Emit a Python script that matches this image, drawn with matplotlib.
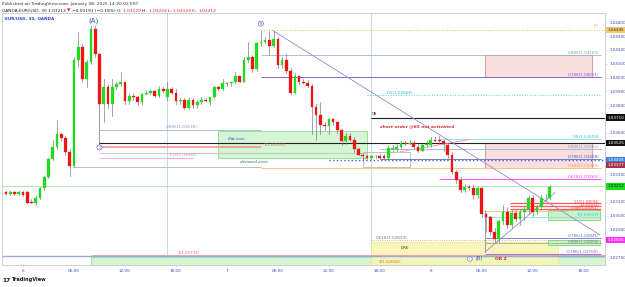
import matplotlib
matplotlib.use('Agg')
import matplotlib.pyplot as plt
from matplotlib.patches import Rectangle
from matplotlib.transforms import blended_transform_factory
import numpy as np

# ---------------- data ----------------
bar_hours = np.arange(-2.0, 62.5, 0.5)   # 30-min bars, hours from Jan 6 00:00

opens = [1.0317, 1.0316, 1.0317, 1.0316, 1.0317,
         1.0317, 1.0310, 1.0309, 1.0313, 1.0320,
         1.0328, 1.0341, 1.0350, 1.0359, 1.0356,
         1.0346, 1.0336, 1.0413, 1.0422, 1.0399,
         1.0411, 1.0435, 1.0417, 1.0381, 1.0393,
         1.0381, 1.0393, 1.0395, 1.0397, 1.0383,
         1.0387, 1.0386, 1.0382, 1.0388, 1.0389,
         1.0390, 1.0387, 1.0392, 1.0386, 1.0392,
         1.0389, 1.0383, 1.0384, 1.0378, 1.0384,
         1.0380, 1.0382, 1.0384, 1.0382, 1.0386,
         1.0393, 1.0392, 1.0395, 1.0396, 1.0397,
         1.0401, 1.0397, 1.0413, 1.0415, 1.0406,
         1.0425, 1.0426, 1.0427, 1.0423, 1.0428,
         1.0409, 1.0413, 1.0405, 1.0389, 1.0401,
         1.0397, 1.0396, 1.0394, 1.0379, 1.0373,
         1.0366, 1.0365, 1.0370, 1.0368, 1.0362,
         1.0354, 1.0358, 1.0355, 1.0348, 1.0344,
         1.0343, 1.0342, 1.0343, 1.0343, 1.0343,
         1.0342, 1.0348, 1.0348, 1.0350, 1.0353,
         1.0352, 1.0353, 1.0350, 1.0347, 1.0351,
         1.0351, 1.0355, 1.0355, 1.0354, 1.0351,
         1.0344, 1.0332, 1.0326, 1.0319, 1.0321,
         1.0320, 1.0315, 1.0320, 1.0301, 1.0299,
         1.0288, 1.0283, 1.0296, 1.0303, 1.0293,
         1.0302, 1.0298, 1.0303, 1.0305, 1.0313,
         1.0303, 1.0306, 1.0313, 1.0313]

highs = [1.0318, 1.0318, 1.0318, 1.0318, 1.0318,
         1.0318, 1.0312, 1.0314, 1.0321, 1.0329,
         1.0342, 1.0355, 1.0369, 1.0360, 1.0358,
         1.0348, 1.0415, 1.0433, 1.0424, 1.0413,
         1.0437, 1.0437, 1.0418, 1.0399, 1.0395,
         1.0399, 1.0397, 1.0404, 1.0397, 1.0389,
         1.0389, 1.0387, 1.0389, 1.0391, 1.0391,
         1.0391, 1.0394, 1.0393, 1.0397, 1.0393,
         1.0392, 1.0385, 1.0385, 1.0386, 1.0385,
         1.0384, 1.0386, 1.0385, 1.0386, 1.0394,
         1.0394, 1.0399, 1.0397, 1.0397, 1.0404,
         1.0401, 1.0415, 1.0426, 1.0416, 1.0426,
         1.0434, 1.0429, 1.0434, 1.0434, 1.0429,
         1.0415, 1.0417, 1.0407, 1.0403, 1.0402,
         1.0399, 1.0398, 1.0395, 1.0381, 1.0382,
         1.0368, 1.0371, 1.0371, 1.0368, 1.0363,
         1.0360, 1.0360, 1.0357, 1.0349, 1.0345,
         1.0344, 1.0344, 1.0344, 1.0345, 1.0345,
         1.0351, 1.0351, 1.0352, 1.0354, 1.0354,
         1.0355, 1.0354, 1.0352, 1.0352, 1.0354,
         1.0357, 1.0357, 1.0358, 1.0355, 1.0352,
         1.0346, 1.0333, 1.0328, 1.0323, 1.0322,
         1.0322, 1.0321, 1.0321, 1.0302, 1.0300,
         1.0291, 1.0297, 1.0308, 1.0306, 1.0304,
         1.0304, 1.0305, 1.0307, 1.0315, 1.0315,
         1.0308, 1.0315, 1.0316, 1.0322]

lows = [1.0315, 1.0315, 1.0315, 1.0315, 1.0314,
        1.0309, 1.0309, 1.0308, 1.0312, 1.0319,
        1.0327, 1.0340, 1.0348, 1.0354, 1.0344,
        1.0329, 1.0335, 1.0408, 1.0397, 1.0393,
        1.0410, 1.0415, 1.0380, 1.0368, 1.0378,
        1.0372, 1.0392, 1.0394, 1.0381, 1.0381,
        1.0384, 1.0380, 1.0381, 1.0388, 1.0388,
        1.0386, 1.0386, 1.0389, 1.0384, 1.0388,
        1.0381, 1.0381, 1.0377, 1.0377, 1.0378,
        1.0378, 1.0381, 1.0382, 1.0380, 1.0385,
        1.0391, 1.0391, 1.0394, 1.0394, 1.0396,
        1.0397, 1.0397, 1.0411, 1.0404, 1.0405,
        1.0423, 1.0425, 1.0416, 1.0422, 1.0407,
        1.0407, 1.0403, 1.0388, 1.0389, 1.0395,
        1.0395, 1.0393, 1.0359, 1.0355, 1.0359,
        1.0362, 1.0359, 1.0366, 1.0360, 1.0351,
        1.0352, 1.0354, 1.0346, 1.0344, 1.0341,
        1.0341, 1.0341, 1.0342, 1.0341, 1.0341,
        1.0342, 1.0346, 1.0347, 1.0348, 1.0351,
        1.0352, 1.0349, 1.0346, 1.0347, 1.0350,
        1.0350, 1.0354, 1.0352, 1.0347, 1.0342,
        1.0330, 1.0324, 1.0317, 1.0317, 1.0319,
        1.0312, 1.0313, 1.0299, 1.0288, 1.0286,
        1.0281, 1.0281, 1.0294, 1.0291, 1.0292,
        1.0296, 1.0293, 1.0297, 1.0301, 1.0300,
        1.0301, 1.0304, 1.0311, 1.0312]

closes = [1.0316, 1.0317, 1.0316, 1.0317, 1.0315,
          1.0309, 1.0309, 1.0313, 1.0320, 1.0328,
          1.0341, 1.0350, 1.0359, 1.0356, 1.0346,
          1.0336, 1.0413, 1.0422, 1.0399, 1.0411,
          1.0435, 1.0417, 1.0381, 1.0393, 1.0381,
          1.0393, 1.0395, 1.0397, 1.0383, 1.0387,
          1.0386, 1.0382, 1.0388, 1.0389, 1.0390,
          1.0387, 1.0392, 1.0390, 1.0392, 1.0389,
          1.0383, 1.0384, 1.0378, 1.0384, 1.0380,
          1.0382, 1.0384, 1.0383, 1.0386, 1.0393,
          1.0392, 1.0396, 1.0396, 1.0397, 1.0401,
          1.0397, 1.0413, 1.0415, 1.0406, 1.0425,
          1.0426, 1.0427, 1.0423, 1.0428, 1.0409,
          1.0413, 1.0405, 1.0389, 1.0401, 1.0397,
          1.0396, 1.0394, 1.0379, 1.0373, 1.0366,
          1.0365, 1.0370, 1.0368, 1.0362, 1.0354,
          1.0358, 1.0355, 1.0348, 1.0344, 1.0343,
          1.0342, 1.0343, 1.0343, 1.0342, 1.0342,
          1.0349, 1.0349, 1.0350, 1.0353, 1.0352,
          1.0353, 1.0350, 1.0347, 1.0351, 1.0352,
          1.0355, 1.0354, 1.0354, 1.0352, 1.0344,
          1.0332, 1.0326, 1.0319, 1.0321, 1.0320,
          1.0315, 1.0320, 1.0301, 1.0299, 1.0288,
          1.0283, 1.0296, 1.0303, 1.0293, 1.0302,
          1.0298, 1.0303, 1.0305, 1.0313, 1.0303,
          1.0306, 1.0313, 1.0313, 1.0321]

x_tick_hours = [0, 6, 12, 18, 24, 30, 36, 42, 48, 54, 60, 66]
x_tick_labels = ['6', '06:00', '12:00', '18:00', '7', '06:00', '12:00', '18:00',
                 '8', '06:00', '12:00', '18:00']
price_ticks = [1.027, 1.029, 1.030, 1.031, 1.033,
               1.036, 1.038, 1.039, 1.040, 1.041, 1.042, 1.043, 1.044]
session_breaks = [17, 41]

# ---------------- figure ----------------
W, H = 625, 287
fig = plt.figure(figsize=(W / 100, H / 100), dpi=100)
fig.patch.set_facecolor('white')
ax = fig.add_axes([2 / W, 22 / H, 603 / W, 252 / H])
XMIN, XMAX = -2.47, 68.5
YMIN, YMAX = 1.02644, 1.04467
ax.set_xlim(XMIN, XMAX)
ax.set_ylim(YMIN, YMAX)

FS = 3.0
AXC = '#3b4bc4'
for s in ax.spines.values():
    s.set_color('#c8c8c8')
    s.set_linewidth(0.6)
ax.yaxis.tick_right()
ax.set_yticks(price_ticks)
ax.set_yticklabels([f'{p:.5f}' for p in price_ticks])
ax.set_xticks(x_tick_hours)
ax.set_xticklabels(x_tick_labels)
ax.tick_params(axis='both', labelsize=FS, colors=AXC, length=1.5, width=0.4, pad=1.5)
ax.tick_params(axis='both', color='#c8c8c8')

# session separators
for h in session_breaks:
    ax.axvline(h, color='#b7d3ea', lw=0.6, zorder=1)

def hline(x0, x1, y, color, lw=0.6, ls='-', z=2):
    ax.plot([x0, x1], [y, y], color=color, lw=lw, ls=ls, zorder=z, solid_capstyle='butt')

def box(x0, x1, y0, y1, fc, ec, alpha=1.0, z=1, lw=0.6):
    ax.add_patch(Rectangle((x0, y0), x1 - x0, y1 - y0, facecolor=fc, edgecolor=ec,
                           lw=lw, alpha=alpha, zorder=z))

def txt(x, y, s, color, ha='left', va='center', fs=FS, **kw):
    ax.text(x, y, s, color=color, ha=ha, va=va, fontsize=fs, zorder=6, **kw)

# ---- bottom bands ----
box(8.0, XMAX, YMIN, 1.02702, '#d4f5d4', '#9be09b', z=1)
box(41.0, 63.0, YMIN, 1.02811, '#f7f5b0', '#e8e59a', alpha=0.85, z=1)
hline(XMIN, XMAX, 1.02709, '#9fa8da', lw=1.0)
hline(8.0, XMAX, 1.02717, '#f48fb1', lw=0.6)
txt(20.8, 1.02733, '2(1.02711)', '#e0609a', ha='right')
txt(41.8, 1.02666, '1(1.02656)', '#e06a40')
txt(44.4, 1.02768, 'DRE', '#333333')
hline(41.0, 63.0, 1.02826, '#b5b54a', lw=0.6, ls=':')
txt(41.5, 1.02842, '0.618(1.02813)', '#777777')

# ---- first fib (from A) ----
ax.plot([9.0, 9.0], [1.03494, 1.03806], color='#8a8a8a', lw=0.6, zorder=2)
hline(9.0, 28.0, 1.03618, '#9ab4d4')
txt(20.5, 1.03640, '0.886(1.03618)', '#7f9cc0', ha='right')
hline(9.0, XMAX, 1.03525, '#222222', lw=0.8)
hline(9.0, 28.0, 1.03501, '#f08a8a', lw=1.1)
hline(9.0, 40.5, 1.03457, '#a9cfa9')
hline(9.0, 20.0, 1.03421, '#f4a3d0')
txt(20.5, 1.03440, '1.13(1.03416)', '#e477c0', ha='right')
hline(5.9, 28.0, 1.03356, '#a8bfa8')
ax.text(9.0, 1.03494, '2', color='#7b61d8', fontsize=2.6, ha='center', va='center', zorder=7,
        bbox=dict(boxstyle='circle,pad=0.15', fc='white', ec='#7b61d8', lw=0.5))

# ---- flat corr / demand zone ----
box(22.9, 40.5, 1.03421, 1.03610, '#c9f2c9', '#6fcf6f', alpha=0.75, z=1)
txt(24.1, 1.03552, 'flat corr.', '#1a3fd6', style='italic')
txt(28.3, 1.03515, '1(1.03556)', '#e0704a')
txt(25.5, 1.03392, 'demand zone', '#2e6b5e', style='italic')
hline(28.0, 68.0, 1.03349, '#f7c48a', lw=0.7)
box(40.0, 45.5, 1.03356, 1.03464, 'none', '#b8b8b8', z=2)

# ---- fib from B ----
hline(28.0, XMAX, 1.04343, '#f2c14e', lw=0.7, ls=':')
hline(28.0, 68.0, 1.04163, '#9ab4d4')
hline(28.0, 68.0, 1.04001, '#8a63d2', lw=0.7)
box(54.4, 67.0, 1.04001, 1.04163, '#f9dede', '#e88a8a', z=1)
txt(67.8, 1.04180, '0.886(1.04163)', '#7f9cc0', ha='right')
txt(67.8, 1.04018, '0.786(1.04001)', '#7d5bc8', ha='right')
hline(40.5, 68.0, 1.03871, '#4fd3e6', lw=0.7, ls=':')
txt(42.8, 1.03890, '0.5(1.03868)', '#31bcd0')
txt(67.5, 1.04370, '59', '#e8b040', ha='center', fs=2.6)

ax.text(8.3, 1.0441, '(A)', color='#3f51b5', fontsize=5, ha='center', va='center', zorder=7)
ax.text(28.0, 1.0439, 'B', color='#7b61d8', fontsize=2.6, ha='center', va='center', zorder=7,
        bbox=dict(boxstyle='circle,pad=0.15', fc='white', ec='#7b61d8', lw=0.5))

# DB line and note
hline(41.0, XMAX, 1.03711, '#222222', lw=0.8)
txt(41.0, 1.03735, 'DB', '#222222', fs=2.6)
txt(42.0, 1.03646, 'short order @65 not activated', '#d32f2f', style='italic', weight='bold', fs=3.2)

# ---- right-side fib cluster ----
hline(49.0, 68.0, 1.03559, '#84e0ea')
txt(67.8, 1.03572, '0.5(1.03559)', '#31bcd0', ha='right')
hline(42.0, 68.0, 1.03486, '#9ab4d4')
txt(67.8, 1.03500, '0.886(1.03482)', '#7f9cc0', ha='right')
box(54.4, 67.0, 1.03348, 1.03530, '#f9dede', '#e88a8a', z=1)
hline(36.0, XMAX, 1.03406, '#3d5afe', lw=1.0, ls=':')
hline(42.0, 68.0, 1.03412, '#5c6bc0', lw=0.6)
txt(67.8, 1.03424, '0.786(1.03408)', '#4a5ac0', ha='right')
txt(67.8, 1.03362, '0.382(1.03349)', '#f0a050', ha='right')
hline(49.0, 68.0, 1.03265, '#ff4fff', lw=0.7)
txt(67.8, 1.03280, '0.618(1.03265)', '#e040e0', ha='right')
ax.plot([44.4, 52.6], [1.03464, 1.03552], color='#f48fb1', lw=0.6, zorder=2)

# current price line
hline(XMIN, XMAX, 1.03218, '#a3e6a3', lw=0.6)

# ---- lower-right fib cluster ----
for lvl, lab in zip([1.03094, 1.03072, 1.03051], ['1.13(1.03094)', '1(1.03072)', '0.886(1.03051)']):
    hline(57.3, 68.0, lvl, '#ff5a5a', lw=0.9)
    txt(67.8, lvl + 0.00006, lab, '#ff3b3b', ha='right', fs=2.6)
hline(54.4, 64.0, 1.03036, '#f7c48a', lw=0.7)
box(61.8, 67.9, 1.02971, 1.03044, '#c9f2c9', '#7fd67f', z=1)
hline(54.4, 68.0, 1.02993, '#84e0ea')
txt(67.8, 1.03005, '1(1.03017)', '#31bcd0', ha='right')
ax.plot([54.4, 54.4], [1.02739, 1.03044], color='#8a8a8a', lw=0.6, zorder=2)
hline(54.4, 68.0, 1.02841, '#7986cb', lw=0.7)
txt(67.8, 1.02856, '0.786(1.02841)', '#5c6bc0', ha='right')
box(61.8, 67.9, 1.02790, 1.02826, '#c9f2c9', '#7fd67f', z=1)
hline(54.4, 68.0, 1.02804, '#9ab49a')
txt(67.8, 1.02812, '0.886(1.02804)', '#777777', ha='right')
hline(54.4, 68.0, 1.02724, '#7986cb', lw=0.7)
txt(67.8, 1.02738, '0.786(1.02700)', '#5c6bc0', ha='right')

# trend lines
ax.plot([29.4, 67.9], [1.0434, 1.02862], color='#9a86d0', lw=0.6, zorder=2)
ax.plot([54.4, 62.6], [1.02739, 1.03167], color='#9a86d0', lw=0.6, zorder=2)

# (C)(B)OR 2
ax.text(52.6, 1.02688, 'C', color='#7b61d8', fontsize=2.6, ha='center', va='center', zorder=7,
        bbox=dict(boxstyle='circle,pad=0.12', fc='white', ec='#7b61d8', lw=0.4))
txt(53.3, 1.02688, '(B)', '#3f51b5', fs=3.6)
txt(55.5, 1.02688, 'OR 2', '#e02020', fs=3.2, weight='bold')

# ---------------- candles ----------------
GREEN, RED = '#1fdc1f', '#f01414'
for t, o, h, l, c in zip(bar_hours, opens, highs, lows, closes):
    col = GREEN if c >= o else RED
    ax.plot([t, t], [l, h], color='#808080', lw=0.5, zorder=3)
    body = max(abs(c - o), 0.00002)
    ax.add_patch(Rectangle((t - 0.16, min(o, c)), 0.32, body, facecolor=col,
                           edgecolor=col, lw=0.2, zorder=4))

# ---------------- right axis highlight labels ----------------
trans = blended_transform_factory(ax.transAxes, ax.transData)
def plabel(y, s, bg, fg='white'):
    ax.text(1.004, y, s, transform=trans, ha='left', va='center', fontsize=FS, color=fg,
            zorder=8, clip_on=False,
            bbox=dict(boxstyle='square,pad=0.25', fc=bg, ec='none'))

plabel(1.04343, '1.04345', '#f5c96a', fg='#333333')
plabel(1.03711, '1.03710', '#111111')
plabel(1.03525, '1.03525', '#111111')
plabel(1.03406, '1.03408', '#3f7fd6')
plabel(1.03370, '1.03377', '#a3344f')
plabel(1.03212, '1.03212', '#14e014', fg='#111111')
plabel(1.02826, '1.02826', '#ff2bff')

# ---------------- header / footer ----------------
ax.text(0.005, 0.985, 'EUR/USD, 30, OANDA', transform=ax.transAxes, color='#3344cc',
        fontsize=FS, ha='left', va='top', weight='bold', zorder=8)
fig.text(2 / W, 1 - 4 / H, 'Published on TradingView.com, January 08, 2025 14:20:02 EST',
         fontsize=3.2, color='#333333', ha='left', va='center')
parts = [('OANDA:EUR/USD, 30 ', '#222222'), ('1.03213 ', '#222222'), ('\u25bc ', '#e02020'),
         ('\u22120.00191 (\u22120.18%) ', '#222222'), ('O: ', '#222222'), ('1.03129 ', '#e02020'),
         ('H: ', '#222222'), ('1.03224 ', '#e02020'), ('L: ', '#222222'), ('1.03123 ', '#e02020'),
         ('C: ', '#222222'), ('1.03212', '#e02020')]
fig.canvas.draw()
xpos = 2 / W
rend = fig.canvas.get_renderer()
for s, c in parts:
    t = fig.text(xpos, 1 - 10.5 / H, s, fontsize=3.2, color=c, ha='left', va='center')
    bb = t.get_window_extent(renderer=rend)
    xpos += bb.width / W

fig.text(2 / W, 1 - 280 / H, '17', fontsize=4.2, weight='bold', color='#131722', ha='left', va='center')
fig.text(12 / W, 1 - 280 / H, 'TradingView', fontsize=3.6, weight='bold', color='#131722',
         ha='left', va='center')

fig.savefig('out.png', dpi=100)
